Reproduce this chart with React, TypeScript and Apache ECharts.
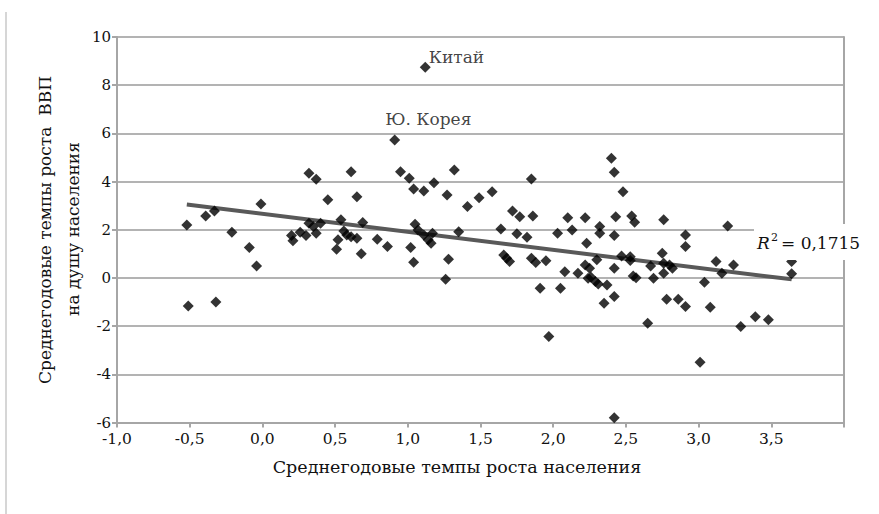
import React, { useEffect, useRef } from "react";
import * as echarts from "echarts";

// Среднегодовые темпы роста населения (x)
const popGrowth = [
  -0.52, -0.39, -0.33, -0.21, -0.09, -0.04, -0.01, -0.51, -0.32, 0.32,
  0.37, 0.45, 0.2, 0.21, 0.26, 0.3, 0.32, 0.35, 0.37, 0.4,
  0.54, 0.56, 0.52, 0.51, 0.61, 0.65, 0.69, 0.58, 0.61, 0.65,
  0.68, 0.79, 0.86, 0.91, 1.12, 0.95, 1.01, 1.04, 1.11, 1.18,
  1.32, 1.27, 1.41, 1.49, 1.58, 1.72, 1.05, 1.07, 1.11, 1.14,
  1.16, 1.17, 1.02, 1.04, 1.28, 1.26, 1.35, 1.64, 1.66, 1.68,
  1.7, 1.85, 1.77, 1.86, 2.1, 2.22, 1.75, 1.82, 1.85, 1.88,
  1.95, 1.91, 2.05, 1.97, 2.03, 2.13, 2.23, 2.08, 2.17, 2.22,
  2.24, 2.4, 2.42, 2.48, 2.43, 2.54, 2.56, 2.76, 2.32, 2.32,
  2.42, 2.3, 2.47, 2.53, 2.53, 2.75, 2.67, 2.76, 2.8, 2.82,
  2.25, 2.26, 2.29, 2.31, 2.37, 2.42, 2.55, 2.57, 2.69, 2.76,
  2.42, 2.35, 2.78, 2.86, 2.91, 2.91, 3.2, 2.91, 2.65, 3.04,
  3.12, 3.16, 3.24, 3.08, 3.01, 3.29, 3.39, 3.48, 3.64, 3.64,
  2.42,
];
// Среднегодовые темпы роста ВВП на душу населения (y)
const gdpGrowth = [
  2.2, 2.57, 2.78, 1.9, 1.26, 0.5, 3.07, -1.16, -1.0, 4.34,
  4.1, 3.24, 1.76, 1.54, 1.9, 1.76, 2.27, 2.13, 1.85, 2.27,
  2.41, 1.95, 1.58, 1.19, 4.41, 3.37, 2.3, 1.78, 1.71, 1.65,
  1.0, 1.61, 1.3, 5.73, 8.74, 4.41, 4.14, 3.69, 3.61, 3.95,
  4.48, 3.44, 2.96, 3.33, 3.58, 2.78, 2.23, 1.99, 1.78, 1.58,
  1.44, 1.85, 1.26, 0.65, 0.78, -0.05, 1.92, 2.03, 0.95, 0.82,
  0.68, 4.11, 2.54, 2.57, 2.5, 2.5, 1.83, 1.69, 0.82, 0.64,
  0.71, -0.43, -0.43, -2.43, 1.85, 1.99, 1.44, 0.26, 0.19, 0.54,
  -0.01, 4.97, 4.39, 3.58, 2.54, 2.57, 2.31, 2.41, 2.13, 1.85,
  1.76, 0.75, 0.91, 0.88, 0.72, 1.02, 0.5, 0.61, 0.54, 0.4,
  0.4, 0.03, -0.15, -0.25, -0.29, 0.4, 0.08, 0.01, -0.01, 0.19,
  -0.77, -1.05, -0.88, -0.88, 1.78, 1.3, 2.16, -1.19, -1.88, -0.18,
  0.68, 0.19, 0.54, -1.22, -3.5, -2.02, -1.61, -1.74, 0.68, 0.17,
  -5.8,
];
// Подписи отдельных точек (индекс -> текст)
const pointNames: Record<number, string> = { 34: "Китай", 33: "Ю. Корея" };
const r2Text = "0,1715";
const xTitle = "Среднегодовые темпы роста населения";
const yTitle1 = "Среднегодовые темпы роста  ВВП";
const yTitle2 = "на душу населения";

const FONT = "DejaVu Serif";
const TXT = "#111";
const GRID = "#b3b3b3";
const AXIS = "#a6a6a6";

export default function App() {
  const ref = useRef<HTMLDivElement>(null);
  useEffect(() => {
    if (!ref.current) return;
    const chart = echarts.init(ref.current, undefined, { renderer: "svg" });

    // linear trend (least squares)
    const n = popGrowth.length;
    let sx = 0, sy = 0, sxx = 0, sxy = 0;
    for (let i = 0; i < n; i++) {
      sx += popGrowth[i]; sy += gdpGrowth[i];
      sxx += popGrowth[i] * popGrowth[i]; sxy += popGrowth[i] * gdpGrowth[i];
    }
    const b = (n * sxy - sx * sy) / (n * sxx - sx * sx);
    const a = (sy - b * sx) / n;
    const xmin = Math.min(...popGrowth);
    const xmax = Math.max(...popGrowth);

    const pts = popGrowth.map((x, i) => {
      const name = pointNames[i];
      if (!name) return [x, gdpGrowth[i]];
      const isChina = name === "Китай";
      return {
        value: [x, gdpGrowth[i]],
        label: {
          show: true,
          formatter: name,
          position: isChina ? [9, -5] : [-4, -15],
          align: "left",
          verticalAlign: "middle",
          fontFamily: FONT,
          fontSize: 17,
          color: TXT,
        },
      };
    });

    const fmt = (v: number) => (Math.abs(v - 4) < 1e-9 ? "" : v.toFixed(1).replace(".", ","));

    chart.setOption({
      animation: false,
      backgroundColor: "#fff",
      grid: { left: 117, right: 35, top: 37, bottom: 91.5 },
      xAxis: {
        type: "value",
        min: -1,
        max: 4,
        interval: 0.5,
        axisLine: { show: true, onZero: false, lineStyle: { color: AXIS, width: 2 } },
        axisTick: { show: true, length: 5, lineStyle: { color: AXIS, width: 2 } },
        splitLine: { show: false },
        axisLabel: {
          formatter: fmt,
          fontFamily: FONT,
          fontSize: 15.5,
          lineHeight: 14,
          color: TXT,
          margin: 9,
        },
      },
      yAxis: [
        {
          type: "value",
          min: -6,
          max: 10,
          interval: 2,
          axisLine: { show: true, onZero: false, lineStyle: { color: AXIS, width: 2 } },
          axisTick: { show: true, length: 5, lineStyle: { color: AXIS, width: 2 } },
          splitLine: { show: true, lineStyle: { color: GRID, width: 2 } },
          axisLabel: { fontFamily: FONT, fontSize: 15, lineHeight: 12, color: TXT, margin: 6 },
        },
        {
          type: "value",
          position: "right",
          min: -6,
          max: 10,
          interval: 2,
          axisLine: { show: true, onZero: false, lineStyle: { color: AXIS, width: 2 } },
          axisTick: { show: false },
          axisLabel: { show: false },
          splitLine: { show: false },
        },
      ],
      series: [
        {
          type: "line",
          data: [
            [xmin, a + b * xmin],
            [xmax, a + b * xmax],
          ],
          symbol: "none",
          lineStyle: { color: "#595959", width: 4 },
          z: 2,
          silent: true,
        },
        {
          type: "scatter",
          data: pts,
          symbol: "diamond",
          symbolSize: 11,
          itemStyle: { color: "#000" },
          z: 3,
        },
      ],
      graphic: [
        {
          type: "line",
          shape: { x1: 6, y1: 12, x2: 6, y2: 514 },
          style: { stroke: "#d6d6d6", lineWidth: 2 },
        },
        {
          type: "text",
          x: 457,
          y: 467,
          style: {
            text: xTitle,
            fontFamily: FONT,
            fontSize: 17.5,
            fill: TXT,
            textAlign: "center",
            textVerticalAlign: "middle",
          },
        },
        {
          type: "text",
          x: 45,
          y: 230,
          rotation: Math.PI / 2,
          style: {
            text: yTitle1,
            fontFamily: FONT,
            fontSize: 17,
            fill: TXT,
            textAlign: "center",
            textVerticalAlign: "middle",
          },
        },
        {
          type: "text",
          x: 73,
          y: 229,
          rotation: Math.PI / 2,
          style: {
            text: yTitle2,
            fontFamily: FONT,
            fontSize: 17,
            fill: TXT,
            textAlign: "center",
            textVerticalAlign: "middle",
          },
        },
        {
          type: "rect",
          shape: { x: 754, y: 224, width: 116, height: 36 },
          style: { fill: "#fff" },
          z: 10,
        },
        {
          type: "text",
          x: 757,
          y: 243,
          z: 11,
          style: {
            text: "R",
            fontFamily: FONT,
            fontStyle: "italic",
            fontSize: 17,
            fill: TXT,
            textAlign: "left",
            textVerticalAlign: "middle",
          },
        },
        {
          type: "text",
          x: 771,
          y: 237,
          z: 11,
          style: {
            text: "2",
            fontFamily: FONT,
            fontSize: 11,
            fill: TXT,
            textAlign: "left",
            textVerticalAlign: "middle",
          },
        },
        {
          type: "text",
          x: 781,
          y: 243,
          z: 11,
          style: {
            text: "= " + r2Text,
            fontFamily: FONT,
            fontSize: 17,
            fill: TXT,
            textAlign: "left",
            textVerticalAlign: "middle",
          },
        },
      ],
    });
    return () => chart.dispose();
  }, []);
  return (
    <div
      ref={ref}
      style={{ position: "absolute", left: 0, top: 0, width: 879, height: 514 }}
    />
  );
}
